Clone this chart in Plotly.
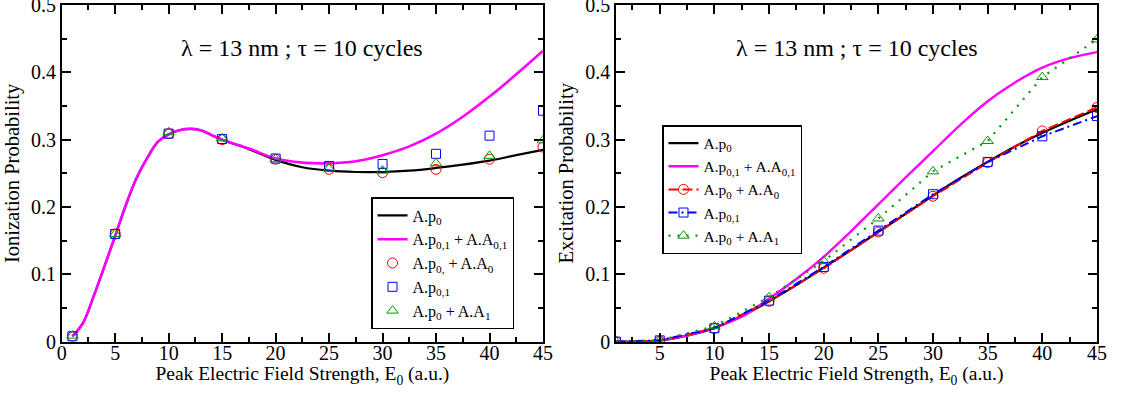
import plotly.graph_objects as go

# ---------------- data ----------------
# sampled field strengths for the smooth curves (left panel)
ion_curve_x = [1, 2, 3, 4, 5, 6, 7, 8, 9, 10, 11, 12, 13, 14, 15, 17.5, 20,
               22.5, 25, 27.5, 30, 32.5, 35, 37.5, 40, 42.5, 45]
ion_ap0 = [0.008, 0.028, 0.068, 0.112, 0.157, 0.203, 0.243, 0.273, 0.297, 0.308,
           0.314, 0.316, 0.314, 0.307, 0.300, 0.286, 0.270, 0.259, 0.254, 0.252,
           0.252, 0.254, 0.258, 0.263, 0.269, 0.277, 0.285]
ion_ap01_aa01 = [0.008, 0.028, 0.068, 0.112, 0.157, 0.203, 0.243, 0.273, 0.297, 0.308,
                 0.314, 0.316, 0.314, 0.307, 0.300, 0.287, 0.272, 0.266, 0.265, 0.268,
                 0.277, 0.290, 0.309, 0.334, 0.364, 0.397, 0.432]

# field strengths of the computed points
pts_x = [1, 5, 10, 15, 20, 25, 30, 35, 40, 45]
ion_ap0_aa0 = [0.008, 0.160, 0.309, 0.300, 0.271, 0.256, 0.251, 0.256, 0.271, 0.289]
ion_ap01 = [0.008, 0.160, 0.309, 0.301, 0.272, 0.261, 0.264, 0.279, 0.306, 0.343]
ion_ap0_aa1 = [0.009, 0.160, 0.311, 0.302, 0.271, 0.257, 0.254, 0.265, 0.276, 0.299]

# right panel
exc_curve_x = [1, 2.5, 5, 7.5, 10, 12.5, 15, 17.5, 20, 22.5, 25, 27.5, 30,
               32.5, 35, 37.5, 40, 42.5, 45]
exc_ap0 = [0.0, 0.0, 0.002, 0.009, 0.020, 0.038, 0.060, 0.084, 0.110, 0.136, 0.163,
           0.190, 0.217, 0.243, 0.267, 0.290, 0.310, 0.328, 0.345]
exc_ap01_aa01 = [0.0, 0.0, 0.002, 0.009, 0.021, 0.037, 0.064, 0.093, 0.126, 0.164, 0.204,
                 0.244, 0.283, 0.322, 0.357, 0.385, 0.407, 0.421, 0.430]
exc_ap0_aa0 = [0.0, 0.001, 0.020, 0.060, 0.109, 0.163, 0.216, 0.266, 0.313, 0.348]
exc_ap01 = [0.0, 0.002, 0.020, 0.061, 0.111, 0.165, 0.219, 0.267, 0.305, 0.335]
exc_ap0_aa1 = [0.0, 0.002, 0.023, 0.066, 0.120, 0.183, 0.253, 0.298, 0.393, 0.449]

title_text = "λ = 13 nm ; τ = 10 cycles"
names_left = ["A.p<sub>0</sub>",
              "A.p<sub>0,1</sub> + A.A<sub>0,1</sub>",
              "A.p<sub>0,</sub> + A.A<sub>0</sub>",
              "A.p<sub>0,1</sub>",
              "A.p<sub>0</sub> + A.A<sub>1</sub>"]
names_right = ["A.p<sub>0</sub>",
               "A.p<sub>0,1</sub> + A.A<sub>0,1</sub>",
               "A.p<sub>0</sub> + A.A<sub>0</sub>",
               "A.p<sub>0,1</sub>",
               "A.p<sub>0</sub> + A.A<sub>1</sub>"]

# ---------------- figure ----------------
W, H = 1132, 393
FONT = "Liberation Serif"
BLACK, MAGENTA, RED, BLUE, GREEN = "#000000", "#ff00ff", "#ff0000", "#0000ff", "#009900"

fig = go.Figure()

# left panel: ionization
fig.add_trace(go.Scatter(x=ion_curve_x, y=ion_ap0, mode="lines", name=names_left[0],
                         line=dict(color=BLACK, width=2.2, shape="spline", smoothing=1.0),
                         xaxis="x", yaxis="y", legend="legend"))
fig.add_trace(go.Scatter(x=ion_curve_x, y=ion_ap01_aa01, mode="lines", name=names_left[1],
                         line=dict(color=MAGENTA, width=2.6, shape="spline", smoothing=1.0),
                         xaxis="x", yaxis="y", legend="legend"))
fig.add_trace(go.Scatter(x=pts_x, y=ion_ap0_aa0, mode="markers", name=names_left[2],
                         marker=dict(symbol="circle-open", size=10, color=RED, line=dict(width=1)),
                         xaxis="x", yaxis="y", legend="legend"))
fig.add_trace(go.Scatter(x=pts_x, y=ion_ap01, mode="markers", name=names_left[3],
                         marker=dict(symbol="square-open", size=9, color=BLUE, line=dict(width=1)),
                         xaxis="x", yaxis="y", legend="legend"))
fig.add_trace(go.Scatter(x=pts_x, y=ion_ap0_aa1, mode="markers", name=names_left[4],
                         marker=dict(symbol="triangle-up-open", size=10, color=GREEN, line=dict(width=1)),
                         xaxis="x", yaxis="y", legend="legend"))

# right panel: excitation
fig.add_trace(go.Scatter(x=exc_curve_x, y=exc_ap0, mode="lines", name=names_right[0],
                         line=dict(color=BLACK, width=2.2, shape="spline", smoothing=1.0),
                         xaxis="x2", yaxis="y2", legend="legend2"))
fig.add_trace(go.Scatter(x=exc_curve_x, y=exc_ap01_aa01, mode="lines", name=names_right[1],
                         line=dict(color=MAGENTA, width=2.4, shape="spline", smoothing=1.0),
                         xaxis="x2", yaxis="y2", legend="legend2"))
fig.add_trace(go.Scatter(x=pts_x, y=exc_ap0_aa0, mode="lines+markers", name=names_right[2],
                         line=dict(color=RED, width=2, dash="10px,4px"),
                         marker=dict(symbol="circle-open", size=10, color=RED, line=dict(width=1)),
                         xaxis="x2", yaxis="y2", legend="legend2"))
fig.add_trace(go.Scatter(x=pts_x, y=exc_ap01, mode="lines+markers", name=names_right[3],
                         line=dict(color=BLUE, width=2, dash="9px,4px,2px,4px"),
                         marker=dict(symbol="square-open", size=9, color=BLUE, line=dict(width=1)),
                         xaxis="x2", yaxis="y2", legend="legend2"))
fig.add_trace(go.Scatter(x=pts_x, y=exc_ap0_aa1, mode="lines+markers", name=names_right[4],
                         line=dict(color=GREEN, width=2.2, dash="2px,7px"),
                         marker=dict(symbol="triangle-up-open", size=10, color=GREEN, line=dict(width=1)),
                         xaxis="x2", yaxis="y2", legend="legend2"))


def px_x(p):
    return p / W


def px_y(p):
    return 1 - p / H


def frame_axis(**kw):
    base = dict(showline=True, linecolor="black", linewidth=1.6, mirror="allticks",
                ticks="inside", ticklen=9, tickwidth=1.5, tickcolor="black",
                showgrid=False, zeroline=False, ticklabeloverflow="allow",
                tickfont=dict(family=FONT, size=20, color="black"),
                minor=dict(ticks="inside", ticklen=5, tickwidth=1.5, tickcolor="black", showgrid=False),
                automargin=False)
    base.update(kw)
    return base


xtitle = "Peak Electric Field Strength, E<sub>0</sub> (a.u.)"
yd = [px_y(341.7), px_y(5)]
fig.update_layout(
    width=W, height=H,
    margin=dict(l=0, r=0, t=0, b=0),
    paper_bgcolor="white", plot_bgcolor="white",
    font=dict(family=FONT, color="black"),
    xaxis=frame_axis(domain=[px_x(61.7), px_x(543)], range=[0, 45], dtick=5, tick0=0,
                     minor_dtick=2.5, anchor="y", ticklabelstandoff=-8,
                     title=dict(text=xtitle, font=dict(family=FONT, size=19.5), standoff=0)),
    yaxis=frame_axis(domain=yd, range=[0, 0.5], dtick=0.1, tick0=0, minor_dtick=0.05,
                     anchor="x",
                     title=dict(text="Ionization Probability",
                                font=dict(family=FONT, size=20.5), standoff=6)),
    xaxis2=frame_axis(domain=[px_x(616), px_x(1097)], range=[1, 45], dtick=5, tick0=0,
                      minor_dtick=2.5, anchor="y2", ticklabelstandoff=-8,
                      title=dict(text=xtitle, font=dict(family=FONT, size=19.5), standoff=0)),
    yaxis2=frame_axis(domain=yd, range=[0, 0.5], dtick=0.1, tick0=0, minor_dtick=0.05,
                      anchor="x2",
                      title=dict(text="Excitation Probability",
                                 font=dict(family=FONT, size=20.5), standoff=6)),
    legend=dict(x=px_x(371), y=px_y(197), xanchor="left", yanchor="top",
                bgcolor="white", bordercolor="black", borderwidth=1.5,
                font=dict(family=FONT, size=16, color="black"),
                tracegroupgap=0, itemwidth=30),
    legend2=dict(x=px_x(662), y=px_y(125), xanchor="left", yanchor="top",
                 bgcolor="white", bordercolor="black", borderwidth=1.5,
                 font=dict(family=FONT, size=15.5, color="black"),
                 tracegroupgap=0, itemwidth=30),
    showlegend=True,
    annotations=[
        dict(text=title_text, x=0.5, y=px_y(33), xref="x domain", yref="paper",
             showarrow=False, font=dict(family=FONT, size=24, color="black")),
        dict(text=title_text, x=0.5, y=px_y(33), xref="x2 domain", yref="paper",
             showarrow=False, font=dict(family=FONT, size=24, color="black")),
    ],
)

fig.write_html("out.html")
